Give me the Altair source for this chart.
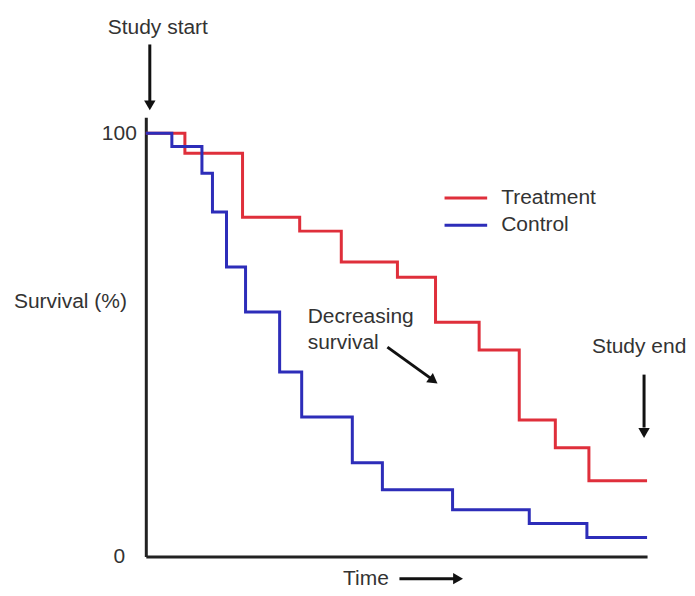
import altair as alt
import pandas as pd

# ---------------- data ----------------
SERIES = ["Treatment", "Control"]
COLORS = ["#df2f3b", "#2d2db9"]

TREAT_TIME = [0, 7.8, 19.3, 30.7, 39.0, 50.2, 57.8, 66.5, 74.5, 81.7, 88.4, 100]
TREAT_SURV = [100, 95.3, 80.2, 76.9, 69.6, 66.0, 55.4, 48.8, 32.3, 25.7, 17.9, 17.9]

CTRL_TIME = [0, 5.2, 11.2, 13.3, 16.1, 19.9, 26.7, 31.1, 41.2, 47.2, 61.2, 76.5, 88.0, 100]
CTRL_SURV = [100, 96.9, 90.6, 81.4, 68.4, 57.8, 43.6, 33.0, 22.2, 15.8, 11.1, 7.8, 4.5, 4.5]

Y_TICKS = [0, 100]
Y_TITLE = "Survival (%)"
X_TITLE = "Time"
ANNOT = ["Study start", "Decreasing", "survival", "Study end"]

# ---------------- build ----------------
rows = []
for t, s in zip(TREAT_TIME, TREAT_SURV):
    rows.append({"time": t, "surv": s, "group": SERIES[0], "order": 0})
for t, s in zip(CTRL_TIME, CTRL_SURV):
    rows.append({"time": t, "surv": s, "group": SERIES[1], "order": 1})
df = pd.DataFrame(rows)

FONT = "Liberation Sans"
FS = 21
TXT = "#333333"
INK = "#111111"

xs = alt.Scale(domain=[0, 100], nice=False, zero=False)
ys = alt.Scale(domain=[0, 103.8], nice=False, zero=False)

lines = alt.Chart(df).mark_line(interpolate="step-after", strokeWidth=3).encode(
    x=alt.X("time:Q", scale=xs,
            axis=alt.Axis(labels=False, ticks=False, grid=False, domain=True,
                          domainColor="#222222", domainWidth=3,
                          title=X_TITLE, titleFont=FONT, titleFontSize=FS,
                          titleFontWeight="normal", titleColor=TXT,
                          titleX=220, titleY=22, titleAlign="center",
                          titleBaseline="middle")),
    y=alt.Y("surv:Q", scale=ys,
            axis=alt.Axis(values=Y_TICKS, ticks=False, tickSize=0, grid=False,
                          domain=True, domainColor="#222222", domainWidth=3,
                          labelFont=FONT, labelFontSize=FS, labelColor=TXT,
                          labelAlign="center", labelBaseline="middle",
                          labelPadding=27,
                          title=Y_TITLE, titleFont=FONT, titleFontSize=FS,
                          titleFontWeight="normal", titleColor=TXT,
                          titleAngle=0, titleX=-76, titleY=185,
                          titleAlign="center", titleBaseline="middle")),
    color=alt.Color("group:N", scale=alt.Scale(domain=SERIES, range=COLORS), legend=None),
    detail="group:N",
    order="order:Q",
)

one = alt.Data(values=[{"a": 1}])


def text(label, t, s, align="left"):
    return alt.Chart(one).mark_text(
        align=align, baseline="middle", font=FONT, fontSize=FS, color=TXT
    ).encode(x=alt.datum(t), y=alt.datum(s), text=alt.value(label))


def rule(t1, s1, t2, s2, color=INK, width=3):
    return alt.Chart(one).mark_rule(color=color, strokeWidth=width).encode(
        x=alt.datum(t1), y=alt.datum(s1), x2=alt.datum(t2), y2=alt.datum(s2)
    )


def head(t, s, shape, angle=0, size=130):
    return alt.Chart(one).mark_point(
        shape=shape, filled=True, color=INK, size=size, angle=angle, opacity=1
    ).encode(x=alt.datum(t), y=alt.datum(s))


layers = [
    lines,
    # legend
    rule(59.6, 84.7, 68.1, 84.7, color=COLORS[0]),
    rule(59.6, 78.3, 68.1, 78.3, color=COLORS[1]),
    text(SERIES[0], 70.9, 84.7),
    text(SERIES[1], 70.9, 78.3),
    # study start
    text(ANNOT[0], 2.4, 125.0, align="center"),
    rule(0.8, 121.0, 0.8, 107.5),
    head(0.8, 106.6, "triangle-down"),
    # decreasing survival
    text(ANNOT[1], 32.3, 56.6),
    text(ANNOT[2], 32.3, 50.5),
    rule(48.2, 49.5, 57.0, 42.0),
    head(57.4, 41.6, "triangle-right", angle=36),
    # study end
    text(ANNOT[3], 89.0, 49.5),
    rule(99.4, 43.0, 99.4, 30.5),
    head(99.4, 29.2, "triangle-down"),
    # time arrow
    rule(50.6, -5.2, 62.0, -5.2),
    head(62.3, -5.2, "triangle-right"),
]

chart = alt.layer(*layers).properties(
    width=502,
    height=440,
    autosize="none",
    background="white",
    padding={"left": 138, "top": 109, "right": 40, "bottom": 31},
).configure_view(strokeWidth=0, stroke="transparent")

chart.save("out.html", embed_options={"renderer": "svg", "actions": False})
